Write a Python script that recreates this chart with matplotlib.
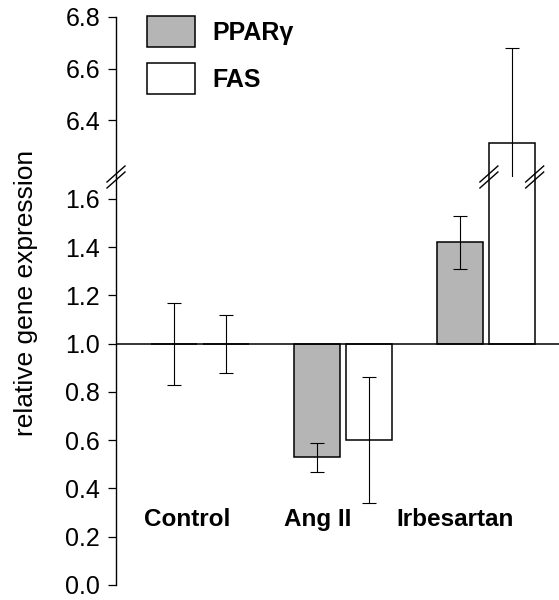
import matplotlib

matplotlib.use("Agg")
import matplotlib.pyplot as plt
import numpy as np

plt.rcParams["font.family"] = ["Liberation Sans", "DejaVu Sans"]

groups = ["Control", "Ang II", "Irbesartan"]
series = ["PPARγ", "FAS"]
ppar = [1.00, 0.53, 1.42]
ppar_err = [0.17, 0.06, 0.11]
fas = [1.00, 0.60, 6.31]
fas_err = [0.12, 0.26, 0.37]

lower_ticks = [0.0, 0.2, 0.4, 0.6, 0.8, 1.0, 1.2, 1.4, 1.6]
upper_ticks = [6.4, 6.6, 6.8]

BASE = 1.0
W = 0.32
OFF = 0.18
LABEL_X = [-0.09, 0.82, 1.78]
GRAY = "#b5b5b5"

fig = plt.figure(figsize=(5.59, 6.0), dpi=100)
left, right = 116 / 559, 1.0
bottom = 1 - 585 / 600
y_break = 1 - 177 / 600
ax_lo = fig.add_axes([left, bottom, right - left, y_break - bottom])
ax_hi = fig.add_axes([left, y_break, right - left, (1 - 17 / 600) - y_break])

x = np.arange(len(groups))
for ax in (ax_lo, ax_hi):
    ax.bar(x - OFF, np.array(ppar) - BASE, W, bottom=BASE, color=GRAY,
           edgecolor="black", linewidth=1.1, label=series[0], zorder=2)
    ax.bar(x + OFF, np.array(fas) - BASE, W, bottom=BASE, color="white",
           edgecolor="black", linewidth=1.1, label=series[1], zorder=2)
    ax.errorbar(x - OFF, ppar, yerr=ppar_err, fmt="none", ecolor="black",
                elinewidth=0.8, capsize=5, capthick=0.8, zorder=3)
    ax.errorbar(x + OFF, fas, yerr=fas_err, fmt="none", ecolor="black",
                elinewidth=0.8, capsize=5, capthick=0.8, zorder=3)
    ax.set_xlim(-0.587, 2.51)
    for s in ("top", "right", "bottom"):
        ax.spines[s].set_visible(False)
    ax.spines["left"].set_linewidth(1.0)
    ax.set_xticks([])
    ax.tick_params(axis="y", direction="out", length=5.5, width=0.9,
                   labelsize=18, pad=6)

ax_lo.axhline(BASE, color="black", linewidth=1.1, zorder=4)
ax_lo.set_ylim(0.0, 1.69)
ax_lo.set_yticks(lower_ticks)
ax_lo.set_yticklabels([f"{t:.1f}" for t in lower_ticks])
ax_hi.set_ylim(6.18, 6.8)
ax_hi.set_yticks(upper_ticks)
ax_hi.set_yticklabels([f"{t:.1f}" for t in upper_ticks])
ax_hi.patch.set_visible(False)

for lx, name in zip(LABEL_X, groups):
    ax_lo.text(lx, 0.27, name, ha="center", va="center", fontsize=17.5,
               fontweight="bold")

fig.text(26 / 559, 1 - 293 / 600, "relative gene expression", rotation=90,
         ha="center", va="center", fontsize=19)

# break marks on the axis and on the tall FAS bar
span = 2.51 + 0.587
bx = [left,
      (x[2] + OFF - W / 2 + 0.587) / span * (1 - left) + left,
      (x[2] + OFF + W / 2 + 0.587) / span * (1 - left) + left]
for cx in bx:
    for dy in (-3, 3):
        cy = y_break + dy / 600
        fig.add_artist(plt.Line2D([cx - 9 / 559, cx + 9 / 559],
                                  [cy - 8 / 600, cy + 8 / 600],
                                  color="black", linewidth=1.0))

handles, labels = ax_lo.get_legend_handles_labels()
leg = fig.legend(handles, labels, loc="upper left",
                 bbox_to_anchor=(147 / 559, 1 - 16 / 600), frameon=False,
                 borderpad=0, borderaxespad=0, handlelength=1.93,
                 handleheight=1.54, handletextpad=0.7, labelspacing=0.63,
                 prop={"size": 18, "weight": "bold"})

fig.savefig("out.png", dpi=100)
